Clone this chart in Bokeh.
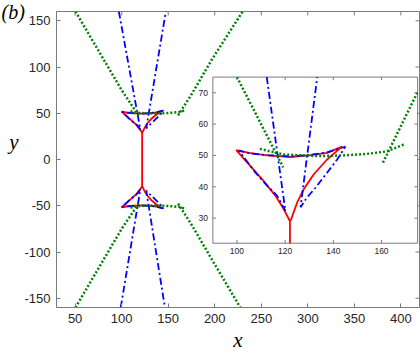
from bokeh.plotting import figure
from bokeh.models import Range1d, FixedTicker, Title
from bokeh.core.properties import value
from bokeh.embed import file_html
from bokeh.resources import INLINE

# ---------------- data ----------------
x_ticks = [50, 100, 150, 200, 250, 300, 350, 400]
x_tick_labels = ["50", "100", "150", "200", "250", "300", "350", "400"]
y_ticks = [-150, -100, -50, 0, 50, 100, 150]
y_tick_labels = ["-150", "-100", "-50", "0", "50", "100", "150"]

inset_x_ticks = [100, 120, 140, 160]
inset_x_tick_labels = ["100", "120", "140", "160"]
inset_y_ticks = [30, 40, 50, 60, 70]
inset_y_tick_labels = ["30", "40", "50", "60", "70"]

# red solid caustic (upper lobe, lower lobe, stem)
red_top_x = [122.0, 119.4, 116.0, 111.1, 105.6, 99.7, 105.0, 112.6, 122.3, 130.5, 137.4, 143.6,
             137.4, 131.9, 127.7, 125.0, 122.5, 122.0]
red_top_y = [29.0, 32.9, 37.1, 41.8, 46.6, 51.7, 50.8, 50.0, 49.5, 50.1, 50.8, 52.8,
             48.7, 44.0, 39.2, 35.0, 29.7, 29.0]
red_bot_x = [122.0, 119.4, 116.0, 111.1, 105.6, 99.7, 105.0, 112.6, 122.3, 130.5, 137.4, 143.6,
             137.4, 131.9, 127.7, 125.0, 122.5, 122.0]
red_bot_y = [-29.0, -32.9, -37.1, -41.8, -46.6, -51.7, -50.8, -50.0, -49.5, -50.1, -50.8, -52.8,
             -48.7, -44.0, -39.2, -35.0, -29.7, -29.0]
red_stem_x = [122.0, 122.0]
red_stem_y = [29.0, -29.0]

# blue dash-dot
blue_top_x = [97.0, 120.1, 116.7, 112.6, 107.7, 100.8, 106.0, 112.6, 122.3, 130.5, 137.4, 145.0,
              141.6, 137.4, 132.6, 129.1, 126.4, 147.5]
blue_top_y = [160.0, 32.3, 37.1, 40.3, 44.5, 51.5, 50.6, 50.1, 49.7, 50.2, 51.0, 52.8,
              48.7, 44.5, 39.7, 36.6, 33.5, 160.0]
blue_bot_x = [99.0, 120.1, 116.7, 112.6, 107.7, 100.8, 106.0, 112.6, 122.3, 130.5, 137.4, 145.0,
              141.6, 137.4, 132.6, 129.1, 126.4, 146.5]
blue_bot_y = [-160.0, -32.3, -37.1, -40.3, -44.5, -51.5, -50.6, -50.1, -49.7, -50.2, -51.0, -52.8,
              -48.7, -44.5, -39.7, -36.6, -33.5, -160.0]

# green dotted
green_in_top_x = [50.4, 100.0, 119.2]
green_in_top_y = [160.0, 75.0, 46.2]
green_flat_top_x = [109.5, 119.4, 133.3, 144.3, 154.0, 162.3, 169.2]
green_flat_top_y = [52.1, 50.3, 49.8, 50.0, 50.5, 51.3, 53.5]
green_out_top_x = [160.6, 174.7, 197.1, 230.0]
green_out_top_y = [47.7, 69.8, 108.4, 160.0]
green_in_bot_x = [50.4, 100.0, 119.2]
green_in_bot_y = [-160.0, -75.0, -46.2]
green_flat_bot_x = [109.5, 119.4, 133.3, 144.3, 154.0, 162.3, 169.2]
green_flat_bot_y = [-52.1, -50.3, -49.8, -50.0, -50.5, -51.3, -53.5]
green_out_bot_x = [160.6, 174.7, 197.1, 227.5]
green_out_bot_y = [-47.7, -69.8, -108.4, -160.0]

# ---------------- styles ----------------
AX = "#7a7a7a"
TXT = "#262626"
RED, BLUE, GREEN = "#ff0000", "#0000ff", "#008000"
SANS = "Liberation Sans"
SERIF = "Liberation Serif"

red_lines = [(red_top_x, red_top_y), (red_bot_x, red_bot_y), (red_stem_x, red_stem_y)]
blue_lines = [(blue_top_x, blue_top_y), (blue_bot_x, blue_bot_y)]
green_lines = [(green_in_top_x, green_in_top_y), (green_flat_top_x, green_flat_top_y),
               (green_out_top_x, green_out_top_y), (green_in_bot_x, green_in_bot_y),
               (green_flat_bot_x, green_flat_bot_y), (green_out_bot_x, green_out_bot_y)]

red_style = dict(line_color=RED, line_width=1.8)
blue_style = dict(line_color=BLUE, line_width=1.8, line_dash="7 3 2 3")
green_style = dict(line_color=GREEN, line_width=2.5, line_dash="2 2")

XMIN, XMAX, YMIN, YMAX = 30, 420, -160, 160
p = figure(width=420, height=354, x_range=Range1d(XMIN, XMAX), y_range=Range1d(YMIN, YMAX),
           output_backend="svg", toolbar_location=None,
           min_border_left=56, min_border_right=1, min_border_top=11, min_border_bottom=45,
           background_fill_color="white", border_fill_color="white",
           outline_line_color=AX, outline_line_width=1)
p.grid.visible = False

for ax, ticks, labels in ((p.xaxis[0], x_ticks, x_tick_labels), (p.yaxis[0], y_ticks, y_tick_labels)):
    ax.ticker = FixedTicker(ticks=ticks)
    ax.major_label_overrides = {t: l for t, l in zip(ticks, labels)}
    ax.axis_line_color = AX
    ax.major_tick_line_color = AX
    ax.major_tick_in = 4
    ax.major_tick_out = 0
    ax.minor_tick_line_color = None
    ax.major_label_text_font = SANS
    ax.major_label_text_font_size = "13px"
    ax.major_label_text_color = TXT
    ax.major_label_standoff = 6
    ax.axis_label_text_font = SERIF
    ax.axis_label_text_font_style = "italic"
    ax.axis_label_text_font_size = "21px"
    ax.axis_label_text_color = "black"

p.xaxis[0].axis_label = "x"
p.xaxis[0].axis_label_standoff = 2
# the blank second line lifts the horizontal "y" a little above the frame's middle
p.yaxis[0].axis_label = "y\n "
p.yaxis[0].axis_label_text_line_height = 1.5
p.yaxis[0].axis_label_standoff = 3
try:
    p.yaxis[0].axis_label_orientation = "horizontal"
except Exception:
    pass

# mirrored tick marks on top and right edges (inward, ~4 px)
tick_dx = 4 / (363 / (XMAX - XMIN))
tick_dy = 4 / (298 / (YMAX - YMIN))
p.segment(x0=x_ticks, y0=[YMAX] * len(x_ticks), x1=x_ticks, y1=[YMAX - tick_dy] * len(x_ticks),
          line_color=AX, line_width=1)
p.segment(x0=[XMAX] * len(y_ticks), y0=y_ticks, x1=[XMAX - tick_dx] * len(y_ticks), y1=y_ticks,
          line_color=AX, line_width=1)

# main curves
for xs, ys in red_lines:
    p.line(xs, ys, **red_style)
for xs, ys in blue_lines:
    p.line(xs, ys, **blue_style)
for xs, ys in green_lines:
    p.line(xs, ys, **green_style)

# ---------------- inset ----------------
IX0, IX1, IY0, IY1 = 90, 175, 22, 75
sub = p.subplot(x_source=Range1d(IX0, IX1), y_source=Range1d(IY0, IY1),
                x_target=Range1d(198, 418), y_target=Range1d(-90.5, 89.1))


def clip_polyline(xs, ys):
    pieces, cur = [], None
    for i in range(len(xs) - 1):
        ax_, ay_, bx_, by_ = xs[i], ys[i], xs[i + 1], ys[i + 1]
        dx, dy = bx_ - ax_, by_ - ay_
        t0, t1, ok = 0.0, 1.0, True
        for pp, qq in ((-dx, ax_ - IX0), (dx, IX1 - ax_), (-dy, ay_ - IY0), (dy, IY1 - ay_)):
            if pp == 0:
                if qq < 0:
                    ok = False
                    break
            else:
                r = qq / pp
                if pp < 0:
                    t0 = max(t0, r)
                else:
                    t1 = min(t1, r)
        if not ok or t0 > t1:
            if cur:
                pieces.append(cur)
            cur = None
            continue
        s = (ax_ + t0 * dx, ay_ + t0 * dy)
        e = (ax_ + t1 * dx, ay_ + t1 * dy)
        if cur is not None and t0 == 0.0:
            cur.append(e)
        else:
            if cur:
                pieces.append(cur)
            cur = [s, e]
        if t1 < 1.0:
            pieces.append(cur)
            cur = None
    if cur:
        pieces.append(cur)
    return [[q[0] for q in c] for c in pieces], [[q[1] for q in c] for c in pieces]


sub.quad(left=[IX0], right=[IX1], bottom=[IY0], top=[IY1], fill_color="white",
         line_color=AX, line_width=1)

for group, style in ((red_lines, red_style), (blue_lines, blue_style), (green_lines, green_style)):
    for xs, ys in group:
        cx, cy = clip_polyline(xs, ys)
        if cx:
            sub.multi_line(cx, cy, **style)

# inset ticks (inward) and labels
tlx, tly = 1.3, 1.0
nx, ny = len(inset_x_ticks), len(inset_y_ticks)
sub.segment(x0=inset_x_ticks, y0=[IY0] * nx, x1=inset_x_ticks, y1=[IY0 + tly] * nx, line_color=AX)
sub.segment(x0=inset_x_ticks, y0=[IY1] * nx, x1=inset_x_ticks, y1=[IY1 - tly] * nx, line_color=AX)
sub.segment(x0=[IX0] * ny, y0=inset_y_ticks, x1=[IX0 + tlx] * ny, y1=inset_y_ticks, line_color=AX)
sub.segment(x0=[IX1] * ny, y0=inset_y_ticks, x1=[IX1 - tlx] * ny, y1=inset_y_ticks, line_color=AX)
sub.text(x=inset_x_ticks, y=[IY0] * nx, text=inset_x_tick_labels, text_font=value(SANS),
         text_font_size="8.5px", text_color=TXT, text_align="center", text_baseline="top", y_offset=5)
sub.text(x=[IX0] * ny, y=inset_y_ticks, text=inset_y_tick_labels, text_font=value(SANS),
         text_font_size="8.5px", text_color=TXT, text_align="right", text_baseline="middle", x_offset=-5)

# panel tag "(b)" in the top-left corner
try:
    tag = Title(text="(b)", align="left", offset=-55, standoff=-23, vertical_align="bottom",
                text_font=SERIF, text_font_style="italic", text_font_size="20px", text_color="black")
except Exception:
    tag = Title(text="(b)", align="left", offset=0, standoff=0,
                text_font=SERIF, text_font_style="italic", text_font_size="18px", text_color="black")
p.add_layout(tag, "above")

open("out.html", "w").write(file_html(p, INLINE))
